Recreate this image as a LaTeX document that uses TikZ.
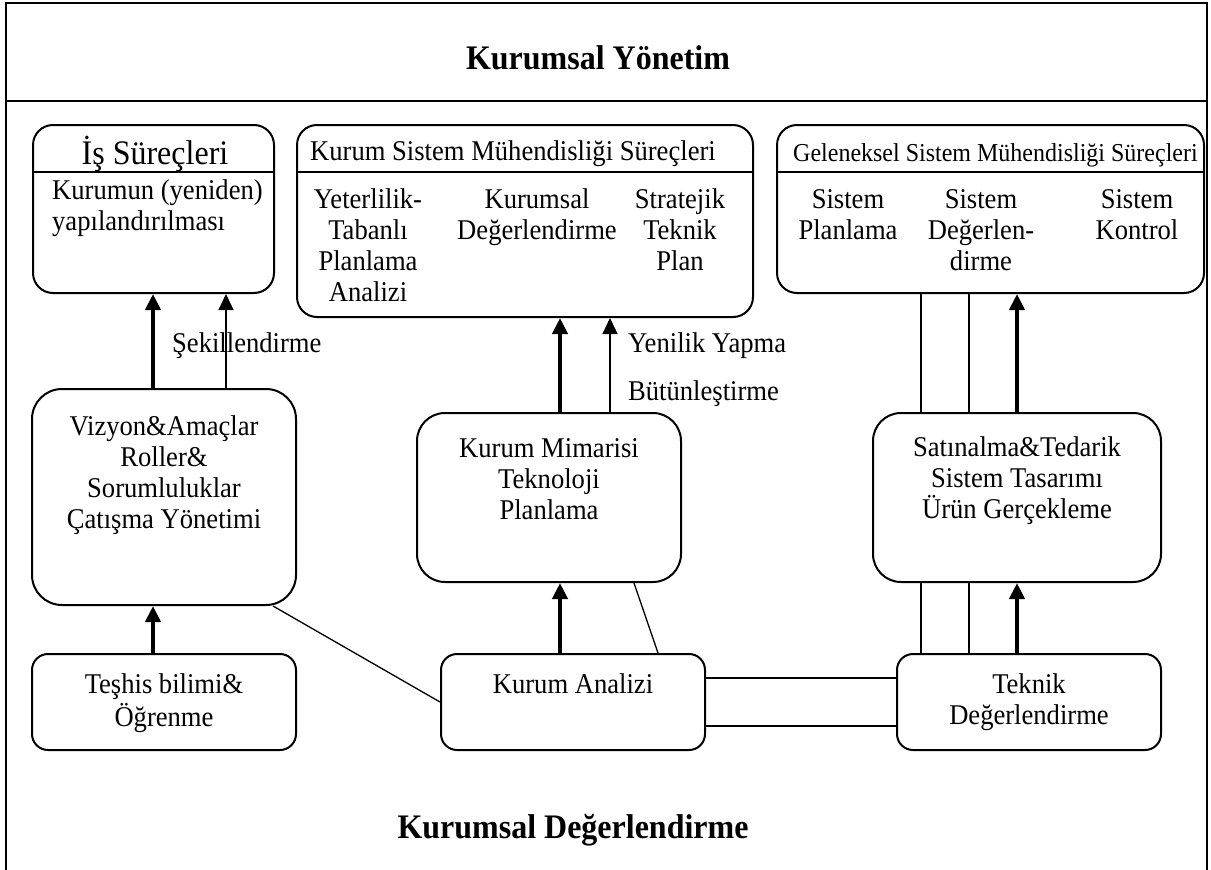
\documentclass[tikz,border=0pt]{standalone}
\usepackage{fontspec}
\setmainfont{Liberation Serif}[FakeStretch=0.93]
\usetikzlibrary{arrows.meta,calc}

\newcommand\bodyfont{\fontsize{28.6}{31}\selectfont}
\newcommand\headfont{\fontsize{25.8}{28}\selectfont}
\newcommand\bigheadfont{\fontsize{34.4}{36}\selectfont}
\newcommand\titlefont{\fontsize{34.4}{36}\selectfont\bfseries}

\tikzset{
  frameline/.style={line width=2pt},
  box/.style={draw, line width=2pt, inner sep=0pt},
  sepline/.style={line width=2pt},
  label/.style={font=\bodyfont, inner sep=0pt},
  coltext/.style={font=\bodyfont, inner sep=0pt, align=center, anchor=north},
  thinline/.style={line width=1.3pt},
  thickline/.style={line width=4.8pt},
  tip/.style={-{Triangle[length=16pt,width=15pt]}},
  thinarrow/.style={thinline, tip},
  thickarrow/.style={thickline, tip},
}

\begin{document}
\begin{tikzpicture}[x=1pt, y=-1pt]
\useasboundingbox (0,0) rectangle (1211,870);

% outer frame, open at the bottom, with the management band on top
\coordinate (fl) at (6,870);
\coordinate (ftl) at (6,3);
\coordinate (ftr) at (1207,3);
\coordinate (fr) at (1207,870);
\coordinate (bandl) at (6,101);
\coordinate (bandr) at (1207,101);
\draw[frameline] (fl) -- (ftl) -- (ftr) -- (fr);
\draw[frameline] (bandl) -- (bandr);

\node[font=\titlefont, inner sep=0pt, anchor=base] (ttop) at (598,69) {Kurumsal Yönetim};
\node[font=\titlefont, inner sep=0pt, anchor=base] (tbot) at (573,838) {Kurumsal Değerlendirme};

% process boxes along the top
\node[box, rounded corners=20pt, minimum width=241pt, minimum height=168pt] (is) at (153.5,209) {};
\node[box, rounded corners=20pt, minimum width=456pt, minimum height=192pt] (ksm) at (525,221) {};
\node[box, rounded corners=20pt, minimum width=427pt, minimum height=168pt] (gsm) at (990.5,209) {};
\draw[sepline] ($(is.north west)+(0,48)$) -- ($(is.north east)+(0,48)$);
\draw[sepline] ($(ksm.north west)+(0,48)$) -- ($(ksm.north east)+(0,48)$);
\draw[sepline] ($(gsm.north west)+(0,48)$) -- ($(gsm.north east)+(0,48)$);

\node[font=\bigheadfont, inner sep=0pt, anchor=base] (ishead) at (155,164) {İş Süreçleri};
\node[font=\bodyfont, inner sep=0pt, anchor=north west, align=left] (isbody) at (52,177.3)
  {\strut Kurumun (yeniden)\\yapılandırılması};

\node[label, anchor=base west] (ksmhead) at (310,160) {Kurum Sistem Mühendisliği Süreçleri};
\node[coltext] (ksm1) at (368,186.3) {\strut Yeterlilik-\\Tabanlı\\Planlama\\Analizi};
\node[coltext] (ksm2) at (537,186.3) {\strut Kurumsal\\Değerlendirme};
\node[coltext] (ksm3) at (680,186.3) {\strut Stratejik\\Teknik\\Plan};

\node[font=\headfont, inner sep=0pt, anchor=base west] (gsmhead) at (793,161) {Geleneksel Sistem Mühendisliği Süreçleri};
\node[coltext] (gsm1) at (848,186.3) {\strut Sistem\\Planlama};
\node[coltext] (gsm2) at (981,186.3) {\strut Sistem\\Değerlen-\\dirme};
\node[coltext] (gsm3) at (1137,186.3) {\strut Sistem\\Kontrol};

% middle row
\node[box, rounded corners=30pt, minimum width=264pt, minimum height=216pt] (viz) at (164,497) {};
\node[box, rounded corners=28pt, minimum width=264pt, minimum height=169pt] (kmim) at (549,497.5) {};
\node[box, rounded corners=28pt, minimum width=288pt, minimum height=169pt] (sat) at (1017,497.5) {};
\node[coltext] (viztext) at (164,413.3) {\strut Vizyon\&Amaçlar\\Roller\&\\Sorumluluklar\\Çatışma Yönetimi};
\node[coltext] (kmimtext) at (549,435.3) {\strut Kurum Mimarisi\\Teknoloji\\Planlama};
\node[coltext] (sattext) at (1017,434.3) {\strut Satınalma\&Tedarik\\Sistem Tasarımı\\Ürün Gerçekleme};

% bottom row
\node[box, rounded corners=16pt, minimum width=264pt, minimum height=96pt] (tes) at (164,702) {};
\node[box, rounded corners=16pt, minimum width=264pt, minimum height=96pt] (kan) at (573,702) {};
\node[box, rounded corners=16pt, minimum width=264pt, minimum height=96pt] (tek) at (1029,702) {};
\node[coltext] (testext) at (164,671.3) {\strut Teşhis bilimi\&\\Öğrenme};
\node[coltext] (kantext) at (573,671.3) {\strut Kurum Analizi};
\node[coltext] (tektext) at (1029,671.3) {\strut Teknik\\Değerlendirme};

% connector labels
\node[label, anchor=base west] (lsek) at (172,352) {Şekillendirme};
\node[label, anchor=base west] (lyen) at (628,352) {Yenilik Yapma};
\node[label, anchor=base west] (lbut) at (628,400) {Bütünleştirme};

% vertical connector tracks
\coordinate (xa) at (153,0);
\coordinate (xb) at (226,0);
\coordinate (xc) at (560,0);
\coordinate (xd) at (610,0);
\coordinate (xe) at (921,0);
\coordinate (xf) at (969,0);
\coordinate (xg) at (1017,0);

\draw[thickarrow] (xa |- viz.north) -- (xa |- is.south);
\draw[thinarrow] (xb |- viz.north) -- (xb |- is.south);
\draw[thickarrow] (xa |- tes.north) -- (xa |- viz.south);

\draw[thickarrow] (xc |- kmim.north) -- (xc |- ksm.south);
\draw[thinarrow] (xd |- kmim.north) -- (xd |- ksm.south);
\draw[thickarrow] (xc |- kan.north) -- (xc |- kmim.south);

\draw[thinline] (xe |- sat.north) -- (xe |- gsm.south);
\draw[thinline] (xf |- sat.north) -- (xf |- gsm.south);
\draw[thickarrow] (xg |- sat.north) -- (xg |- gsm.south);
\draw[thinline] (xe |- tek.north) -- (xe |- sat.south);
\draw[thinline] (xf |- tek.north) -- (xf |- sat.south);
\draw[thickarrow] (xg |- tek.north) -- (xg |- sat.south);

% plain links
\draw[thinline] ($(viz.south east)+(-24,0)$) -- (kan.west);
\draw[thinline] ($(kmim.south east)+(-48,0)$) -- ($(kan.north east)+(-48,0)$);
\draw[thinline, line width=2pt] ($(kan.east)+(0,-24)$) -- ($(tek.west)+(0,-24)$);
\draw[thinline, line width=2pt] ($(kan.east)+(0,24)$) -- ($(tek.west)+(0,24)$);
\end{tikzpicture}
\end{document}
